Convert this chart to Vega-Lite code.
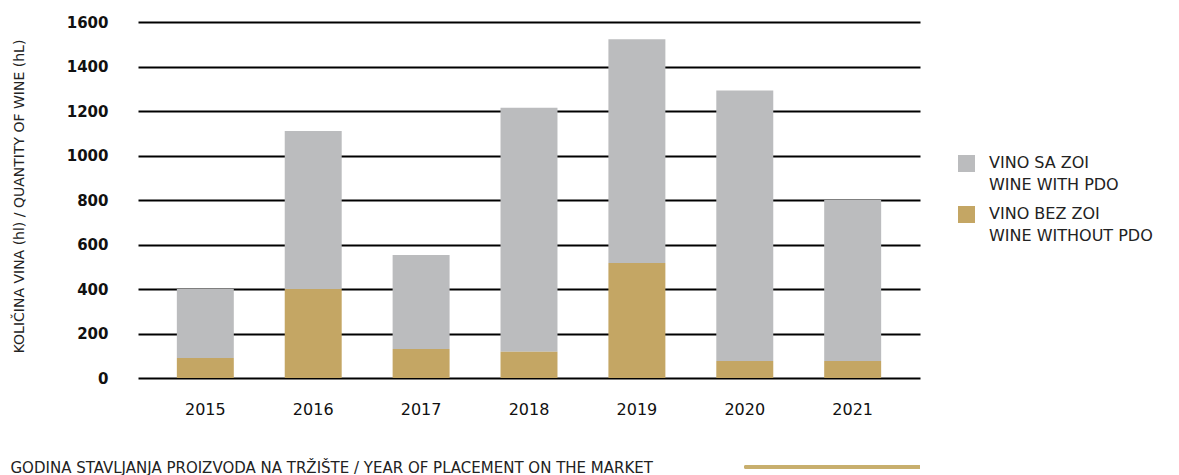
{
  "$schema": "https://vega.github.io/schema/vega-lite/v6.json",
  "width": 782,
  "height": 356,
  "autosize": {"type": "none"},
  "padding": {"left": 138, "top": 22, "right": 259, "bottom": 97},
  "background": "white",
  "config": {
    "view": {"stroke": null},
    "font": "DejaVu Sans"
  },
  "data": {
    "values": [
      {"year": "2015", "type": "VINO SA ZOI|WINE WITH PDO", "value": 310},
      {"year": "2015", "type": "VINO BEZ ZOI|WINE WITHOUT PDO", "value": 90},
      {"year": "2016", "type": "VINO SA ZOI|WINE WITH PDO", "value": 710},
      {"year": "2016", "type": "VINO BEZ ZOI|WINE WITHOUT PDO", "value": 400},
      {"year": "2017", "type": "VINO SA ZOI|WINE WITH PDO", "value": 423},
      {"year": "2017", "type": "VINO BEZ ZOI|WINE WITHOUT PDO", "value": 130},
      {"year": "2018", "type": "VINO SA ZOI|WINE WITH PDO", "value": 1097},
      {"year": "2018", "type": "VINO BEZ ZOI|WINE WITHOUT PDO", "value": 118},
      {"year": "2019", "type": "VINO SA ZOI|WINE WITH PDO", "value": 1005},
      {"year": "2019", "type": "VINO BEZ ZOI|WINE WITHOUT PDO", "value": 517},
      {"year": "2020", "type": "VINO SA ZOI|WINE WITH PDO", "value": 1216},
      {"year": "2020", "type": "VINO BEZ ZOI|WINE WITHOUT PDO", "value": 76},
      {"year": "2021", "type": "VINO SA ZOI|WINE WITH PDO", "value": 724},
      {"year": "2021", "type": "VINO BEZ ZOI|WINE WITHOUT PDO", "value": 76}
    ]
  },
  "layer": [
    {
      "mark": {"type": "bar"},
      "encoding": {
        "x": {
          "field": "year",
          "type": "ordinal",
          "scale": {"paddingInner": 0.472, "paddingOuter": 0.36},
          "axis": {
            "title": "GODINA STAVLJANJA PROIZVODA NA TRŽIŠTE / YEAR OF PLACEMENT ON THE MARKET",
            "titleAnchor": "start",
            "titleAlign": "left",
            "titleBaseline": "top",
            "titleX": -128,
            "titleY": 82,
            "titleFontSize": 15,
            "titleFontWeight": "normal",
            "titleColor": "#222222",
            "labelAngle": 0,
            "labelFontSize": 16,
            "labelColor": "#111111",
            "labelPadding": 23,
            "ticks": false,
            "domain": false,
            "grid": false
          }
        },
        "y": {
          "field": "value",
          "type": "quantitative",
          "stack": "zero",
          "scale": {"domain": [0, 1600], "nice": false},
          "axis": {
            "values": [0, 200, 400, 600, 800, 1000, 1200, 1400, 1600],
            "format": "d",
            "title": "KOLIČINA VINA (hl) / QUANTITY OF WINE (hL)",
            "titleX": -119,
            "titleY": 174,
            "titleAngle": -90,
            "titleAlign": "center",
            "titleBaseline": "middle",
            "titleFontSize": 14,
            "titleFontWeight": "normal",
            "titleColor": "#222222",
            "labelFontSize": 15,
            "labelFontWeight": "bold",
            "labelColor": "#111111",
            "labelPadding": 30,
            "ticks": false,
            "domain": false,
            "grid": true,
            "gridColor": "#000000",
            "gridWidth": 2,
            "gridOpacity": 1,
            "zindex": 0
          }
        },
        "color": {
          "field": "type",
          "type": "nominal",
          "scale": {
            "domain": ["VINO SA ZOI|WINE WITH PDO", "VINO BEZ ZOI|WINE WITHOUT PDO"],
            "range": ["#BBBCBE", "#C4A664"]
          },
          "legend": {
            "title": null,
            "orient": "none",
            "legendX": 820,
            "legendY": 133,
            "symbolType": "square",
            "symbolSize": 289,
            "symbolStrokeWidth": 0,
            "symbolOpacity": 1,
            "labelExpr": "split(datum.label, '|')",
            "labelFontSize": 16,
            "labelColor": "#222222",
            "labelBaseline": "alphabetic",
            "labelOffset": 14,
            "labelLimit": 300,
            "rowPadding": 12,
            "encode": {
              "labels": {
                "update": {
                  "lineHeight": {"value": 22},
                  "dy": {"value": 4}
                }
              }
            }
          }
        },
        "order": {"field": "type", "sort": "ascending"}
      }
    },
    {
      "mark": {"type": "rule", "color": "#C8AE6E", "strokeWidth": 2.5},
      "encoding": {
        "x": {"datum": "2020", "type": "ordinal"},
        "x2": {"value": "width"},
        "y": {"datum": -400, "type": "quantitative"}
      }
    }
  ]
}
